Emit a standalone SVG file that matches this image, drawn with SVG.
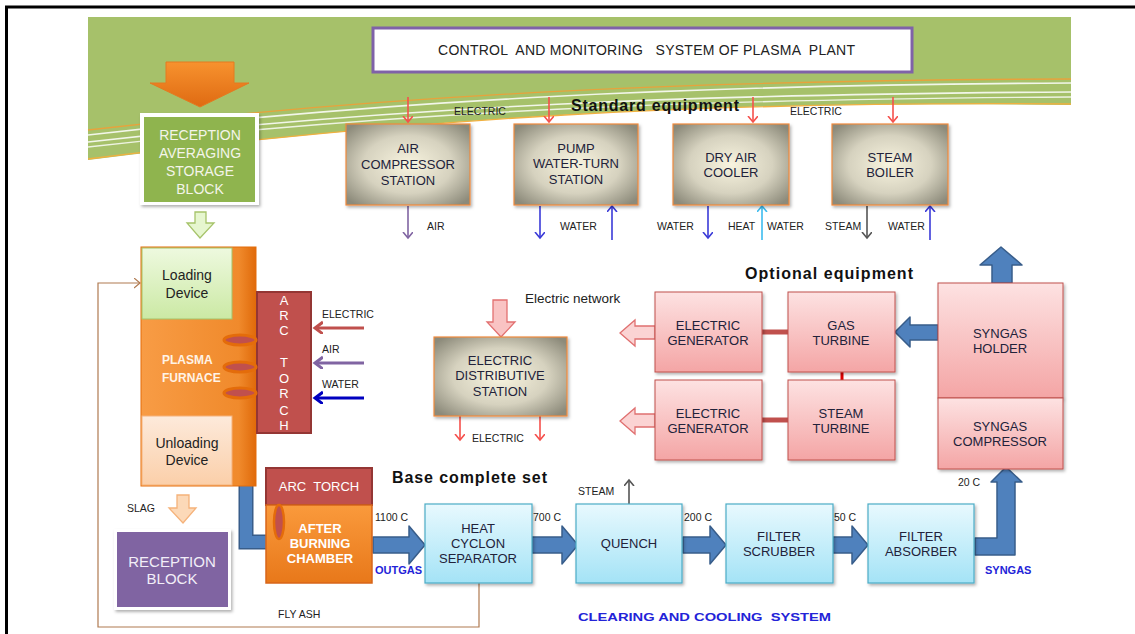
<svg xmlns="http://www.w3.org/2000/svg" width="1135" height="634" viewBox="0 0 1135 634">
  <defs>
    <style>
      .t { font-family: "Liberation Sans", Arial, sans-serif; }
      .box { font-size: 13px; fill: #22223a; text-anchor: middle; }
      .lbl { font-size: 10.5px; fill: #222; }
      .wb { font-size: 13px; fill: #ffffff; font-weight: bold; text-anchor: middle; }
      .ww { font-size: 14px; fill: #f4f4ea; text-anchor: middle; }
      .head { font-size: 16px; font-weight: bold; fill: #111; }
      .blue { font-size: 11px; font-weight: bold; fill: #2323d8; }
      .thin { fill: none; stroke-width: 1.6; }
      .blk { fill: #4f81bd; stroke: #385d8a; stroke-width: 1.5; stroke-linejoin: round; }
      .pinkbox { fill: url(#gPink); stroke: #c0504d; stroke-width: 1; filter: url(#sh); }
      .cyanbox { fill: url(#gCyan); stroke: #4bacc6; stroke-width: 1.2; filter: url(#sh); }
      .graybox { fill: url(#gGray); stroke: #f08a3c; stroke-width: 1.2; filter: url(#sh); }
    </style>
    <radialGradient id="gGray" cx="50%" cy="50%" r="65%">
      <stop offset="0" stop-color="#f8f4df"/>
      <stop offset="0.55" stop-color="#d6d2bf"/>
      <stop offset="1" stop-color="#8c8a7a"/>
    </radialGradient>
    <linearGradient id="gPink" x1="0" y1="0" x2="0" y2="1">
      <stop offset="0" stop-color="#fde2e2"/>
      <stop offset="1" stop-color="#f4a5a5"/>
    </linearGradient>
    <linearGradient id="gCyan" x1="0" y1="0" x2="0" y2="1">
      <stop offset="0" stop-color="#e8f9fe"/>
      <stop offset="1" stop-color="#a4e3f6"/>
    </linearGradient>
    <linearGradient id="gOrange" x1="0" y1="0" x2="1" y2="0">
      <stop offset="0" stop-color="#f89c45"/>
      <stop offset="0.85" stop-color="#f08a2c"/>
      <stop offset="1" stop-color="#e06a0a"/>
    </linearGradient>
    <linearGradient id="gOrangeV" x1="0" y1="0" x2="0" y2="1">
      <stop offset="0" stop-color="#fa9a3c"/>
      <stop offset="1" stop-color="#e8781a"/>
    </linearGradient>
    <linearGradient id="gArrowO" x1="0" y1="0" x2="0" y2="1">
      <stop offset="0" stop-color="#f7922e"/>
      <stop offset="1" stop-color="#df6a12"/>
    </linearGradient>
    <linearGradient id="gLoad" x1="0" y1="0" x2="0" y2="1">
      <stop offset="0" stop-color="#eef9df"/>
      <stop offset="1" stop-color="#cbe9a4"/>
    </linearGradient>
    <linearGradient id="gUnload" x1="0" y1="0" x2="0" y2="1">
      <stop offset="0" stop-color="#fdeadb"/>
      <stop offset="1" stop-color="#fbcfa9"/>
    </linearGradient>
    <filter id="sh" x="-10%" y="-10%" width="125%" height="125%">
      <feDropShadow dx="1.5" dy="2" stdDeviation="1.5" flood-color="#000" flood-opacity="0.3"/>
    </filter>
    <marker id="mRed" markerUnits="userSpaceOnUse" markerWidth="12" markerHeight="12" refX="6" refY="5" orient="auto">
      <path d="M0,0 L6,5 L0,10" fill="none" stroke="#f5504c" stroke-width="1.6"/>
    </marker>
    <marker id="mPur" markerUnits="userSpaceOnUse" markerWidth="12" markerHeight="12" refX="6" refY="5" orient="auto">
      <path d="M0,0 L6,5 L0,10" fill="none" stroke="#8064a2" stroke-width="1.6"/>
    </marker>
    <marker id="mBlu" markerUnits="userSpaceOnUse" markerWidth="12" markerHeight="12" refX="6" refY="5" orient="auto">
      <path d="M0,0 L6,5 L0,10" fill="none" stroke="#3a3ad8" stroke-width="1.6"/>
    </marker>
    <marker id="mCy" markerUnits="userSpaceOnUse" markerWidth="12" markerHeight="12" refX="6" refY="5" orient="auto">
      <path d="M0,0 L6,5 L0,10" fill="none" stroke="#3cbcef" stroke-width="1.6"/>
    </marker>
    <marker id="mGry" markerUnits="userSpaceOnUse" markerWidth="12" markerHeight="12" refX="6" refY="5" orient="auto">
      <path d="M0,0 L6,5 L0,10" fill="none" stroke="#555" stroke-width="1.6"/>
    </marker>
    <marker id="mBrn" markerUnits="userSpaceOnUse" markerWidth="12" markerHeight="12" refX="6" refY="5" orient="auto">
      <path d="M0,0 L6,5 L0,10" fill="none" stroke="#b07a50" stroke-width="1.2"/>
    </marker>
    <marker id="mTRed" markerUnits="userSpaceOnUse" markerWidth="14" markerHeight="14" refX="8" refY="6" orient="auto">
      <path d="M0,0 L8,6 L0,12" fill="none" stroke="#c0504d" stroke-width="3"/>
    </marker>
    <marker id="mTPur" markerUnits="userSpaceOnUse" markerWidth="14" markerHeight="14" refX="8" refY="6" orient="auto">
      <path d="M0,0 L8,6 L0,12" fill="none" stroke="#8064a2" stroke-width="3"/>
    </marker>
    <marker id="mTBlu" markerUnits="userSpaceOnUse" markerWidth="14" markerHeight="14" refX="8" refY="6" orient="auto">
      <path d="M0,0 L8,6 L0,12" fill="none" stroke="#0000c0" stroke-width="3"/>
    </marker>
  </defs>

  <rect width="1135" height="634" fill="#ffffff"/>
  <!-- page frame -->
  <rect x="6.5" y="7" width="1200" height="700" fill="none" stroke="#000" stroke-width="3"/>

  <!-- banner with sweeping stripes -->
  <g id="banner">
    <path d="M88,17 H1071 V105 C 700,100 420,118 88,160 Z" fill="#a6c16a"/>
    <path d="M88,130 C 400,94 700,80 1071,79" fill="none" stroke="#e8a23c" stroke-width="1.3"/>
    <path d="M88,135 C 400,99 700,85 1071,83" fill="none" stroke="#ffffff" stroke-width="1.6" opacity="0.85"/>
    <path d="M88,142 C 400,106 700,94 1071,92" fill="none" stroke="#ffffff" stroke-width="1.6" opacity="0.85"/>
    <path d="M88,147 C 400,111 700,99 1071,97" fill="none" stroke="#ffffff" stroke-width="1.4" opacity="0.8"/>
    <path d="M88,159 C 420,118 700,101 1071,104" fill="none" stroke="#f0b040" stroke-width="1.3"/>
  </g>

  <g id="control">
    <rect x="373" y="28" width="539" height="44" fill="#ffffff" stroke="#7f62a8" stroke-width="3"/>
    <text class="t" x="438" y="55" font-size="14" fill="#222" textLength="417" xml:space="preserve">CONTROL  AND MONITORING   SYSTEM OF PLASMA  PLANT</text>
  </g>

  <text class="t head" x="571" y="111" textLength="168">Standard equipment</text>
  <text class="t head" x="745" y="279" textLength="168">Optional equipment</text>
  <text class="t head" x="392" y="483" font-size="17" textLength="155">Base complete set</text>

  <!-- connectors -->
  <g id="connectors">
    <!-- electric supply into standard equipment -->
    <line x1="408" y1="97" x2="408" y2="122" class="thin" stroke="#f5504c" marker-end="url(#mRed)"/>
    <line x1="549" y1="97" x2="549" y2="122" class="thin" stroke="#f5504c" marker-end="url(#mRed)"/>
    <line x1="753" y1="97" x2="753" y2="122" class="thin" stroke="#f5504c" marker-end="url(#mRed)"/>
    <line x1="893" y1="97" x2="893" y2="122" class="thin" stroke="#f5504c" marker-end="url(#mRed)"/>

    <!-- outputs / inputs below standard equipment -->
    <line x1="408" y1="206" x2="408" y2="238" class="thin" stroke="#8064a2" marker-end="url(#mPur)"/>
    <line x1="540" y1="206" x2="540" y2="238" class="thin" stroke="#3a3ad8" marker-end="url(#mBlu)"/>
    <line x1="612" y1="240" x2="612" y2="206" class="thin" stroke="#3a3ad8" marker-end="url(#mBlu)"/>
    <line x1="708" y1="206" x2="708" y2="238" class="thin" stroke="#3a3ad8" marker-end="url(#mBlu)"/>
    <line x1="762" y1="240" x2="762" y2="206" class="thin" stroke="#3cbcef" marker-end="url(#mCy)"/>
    <line x1="867" y1="206" x2="867" y2="238" class="thin" stroke="#555" stroke-width="2" marker-end="url(#mGry)"/>
    <line x1="930" y1="240" x2="930" y2="206" class="thin" stroke="#3a3ad8" marker-end="url(#mBlu)"/>

    <!-- feed arrows into the arc torch -->
    <line x1="364" y1="328" x2="315" y2="328" stroke="#c0504d" stroke-width="3" marker-end="url(#mTRed)"/>
    <line x1="364" y1="363" x2="315" y2="363" stroke="#8064a2" stroke-width="3" marker-end="url(#mTPur)"/>
    <line x1="364" y1="398" x2="315" y2="398" stroke="#0000c0" stroke-width="3" marker-end="url(#mTBlu)"/>

    <!-- electric distributive station outputs -->
    <line x1="460" y1="416" x2="460" y2="440" class="thin" stroke="#f5504c" marker-end="url(#mRed)"/>
    <line x1="540" y1="416" x2="540" y2="440" class="thin" stroke="#f5504c" marker-end="url(#mRed)"/>

    <!-- fly ash return loop -->
    <polyline points="479,583 479,627 98,627 98,283 140,283" fill="none" stroke="#b07a50" stroke-width="1.2" marker-end="url(#mBrn)"/>

    <!-- steam off the quench -->
    <line x1="629" y1="504" x2="629" y2="480" class="thin" stroke="#555" marker-end="url(#mGry)"/>

    <!-- generator / turbine shafts -->
    <line x1="762" y1="332" x2="788" y2="332" stroke="#c0504d" stroke-width="5"/>
    <line x1="762" y1="420" x2="788" y2="420" stroke="#c0504d" stroke-width="5"/>
    <line x1="842" y1="372" x2="842" y2="380" stroke="#e00000" stroke-width="3"/>

    <!-- block arrows -->
    <path d="M166,62 H234 V83 H249 L200,107 L150,83 H166 Z" fill="url(#gArrowO)" stroke="#e47a20" stroke-width="1"/>
    <path d="M195,212 H206 V223 H214 L200,238 L187,223 H195 Z" fill="#e6f6cf" stroke="#a6c36a" stroke-width="1.3"/>
    <path d="M177,495 H189 V508 H196 L183,523 L169,508 H177 Z" fill="#fcd9b8" stroke="#f5b27a" stroke-width="1.3"/>
    <path d="M493,300 H507 V322 H515 L501,337 L487,322 H493 Z" fill="#f9c3c3" stroke="#e27070" stroke-width="1.3"/>
    <path d="M655,326 H635 V320 L620,333 L635,346 V339 H655 Z" fill="#fbd3d3" stroke="#e07070" stroke-width="1.3"/>
    <path d="M655,414 H635 V408 L620,421 L635,434 V427 H655 Z" fill="#fbd3d3" stroke="#e07070" stroke-width="1.3"/>
    <polyline points="246,485 246,542 268,542" fill="none" stroke="#385d8a" stroke-width="15"/>
    <polyline points="246,486 246,542 268,542" fill="none" stroke="#4f81bd" stroke-width="12"/>
    <path class="blk" d="M373,537 H409 V526 L425,545 L409,564 V553 H373 Z"/>
    <path class="blk" d="M532,537 H562 V526 L578,545 L562,564 V553 H532 Z"/>
    <path class="blk" d="M683,537 H710 V526 L726,545 L710,564 V553 H683 Z"/>
    <path class="blk" d="M833,537 H852 V526 L868,545 L852,564 V553 H833 Z"/>
    <path class="blk" d="M975,538 H997 V482 H991 L1006,467 L1022,482 H1015 V555 H975 Z"/>
    <path class="blk" d="M938,325 H910 V317 L895,332 L910,347 V340 H938 Z"/>
    <path class="blk" d="M992,283 V265 H980 L1001,247 L1022,265 H1012 V283 Z"/>
  </g>

  <!-- connector labels -->
  <g class="t lbl">
    <text x="454" y="115">ELECTRIC</text>
    <text x="790" y="115">ELECTRIC</text>
    <text x="427" y="230">AIR</text>
    <text x="560" y="230">WATER</text>
    <text x="657" y="230">WATER</text>
    <text x="728" y="230">HEAT</text>
    <text x="767" y="230">WATER</text>
    <text x="825" y="230">STEAM</text>
    <text x="888" y="230">WATER</text>
    <text x="322" y="318">ELECTRIC</text>
    <text x="322" y="353">AIR</text>
    <text x="322" y="388">WATER</text>
    <text x="472" y="442">ELECTRIC</text>
    <text x="127" y="512">SLAG</text>
    <text x="375" y="521">1100 C</text>
    <text x="533" y="521">700 C</text>
    <text x="684" y="521">200 C</text>
    <text x="834" y="521">50 C</text>
    <text x="958" y="486">20 C</text>
    <text x="578" y="495">STEAM</text>
    <text x="278" y="618">FLY ASH</text>
  </g>
  <text class="t" x="525" y="303" font-size="13.5" fill="#222">Electric network</text>
  <text class="t blue" x="375" y="574">OUTGAS</text>
  <text class="t blue" x="985" y="574">SYNGAS</text>
  <text class="t blue" x="578" y="621" font-size="15" textLength="253" lengthAdjust="spacingAndGlyphs" xml:space="preserve">CLEARING AND COOLING  SYSTEM</text>

  <!-- feed storage -->
  <g id="reception-averaging">
    <rect x="140" y="113" width="119" height="92" fill="#ffffff" filter="url(#sh)"/>
    <rect x="144" y="117" width="111" height="85" fill="#8fb44e"/>
    <text class="t ww" x="200" y="140">RECEPTION</text>
    <text class="t ww" x="200" y="158">AVERAGING</text>
    <text class="t ww" x="200" y="176">STORAGE</text>
    <text class="t ww" x="200" y="194">BLOCK</text>
  </g>

  <!-- standard equipment -->
  <g id="air-compressor">
    <rect class="graybox" x="346" y="124" width="124" height="81"/>
    <text class="t box" x="408" y="153">AIR</text>
    <text class="t box" x="408" y="169">COMPRESSOR</text>
    <text class="t box" x="408" y="185">STATION</text>
  </g>
  <g id="pump-station">
    <rect class="graybox" x="514" y="124" width="124" height="81"/>
    <text class="t box" x="576" y="153">PUMP</text>
    <text class="t box" x="576" y="168">WATER-TURN</text>
    <text class="t box" x="576" y="184">STATION</text>
  </g>
  <g id="dry-air-cooler">
    <rect class="graybox" x="673" y="124" width="116" height="81"/>
    <text class="t box" x="731" y="162">DRY AIR</text>
    <text class="t box" x="731" y="177">COOLER</text>
  </g>
  <g id="steam-boiler">
    <rect class="graybox" x="832" y="124" width="116" height="81"/>
    <text class="t box" x="890" y="162">STEAM</text>
    <text class="t box" x="890" y="177">BOILER</text>
  </g>

  <!-- plasma furnace -->
  <g id="plasma-furnace">
    <rect x="141" y="247" width="115" height="239" fill="url(#gOrange)" stroke="#e46c0a" stroke-width="1"/>
    <text class="t" x="162" y="364" font-size="12" font-weight="bold" fill="#fff3e6">PLASMA</text>
    <text class="t" x="162" y="382" font-size="12" font-weight="bold" fill="#fff3e6">FURNACE</text>
  </g>
  <g id="loading-device">
    <rect x="142" y="248" width="90" height="71" fill="url(#gLoad)" stroke="#a6c36a" stroke-width="1"/>
    <text class="t" x="187" y="280" font-size="14" fill="#222" text-anchor="middle">Loading</text>
    <text class="t" x="187" y="298" font-size="14" fill="#222" text-anchor="middle">Device</text>
  </g>
  <g id="unloading-device">
    <rect x="142" y="416" width="90" height="69" fill="url(#gUnload)" stroke="#f5b27a" stroke-width="1"/>
    <text class="t" x="187" y="448" font-size="14" fill="#222" text-anchor="middle">Unloading</text>
    <text class="t" x="187" y="465" font-size="14" fill="#222" text-anchor="middle">Device</text>
  </g>
  <g id="arc-torch">
    <rect x="257" y="292" width="54" height="141" fill="#c0504d" stroke="#943634" stroke-width="2"/>
    <g class="t" font-size="13" fill="#ffffff" text-anchor="middle">
      <text x="284" y="305">A</text>
      <text x="284" y="320">R</text>
      <text x="284" y="335">C</text>
      <text x="284" y="367">T</text>
      <text x="284" y="383">O</text>
      <text x="284" y="398">R</text>
      <text x="284" y="415">C</text>
      <text x="284" y="430">H</text>
    </g>
    <ellipse cx="240" cy="340" rx="16" ry="5" fill="#c0504d" stroke="#e46c0a" stroke-width="3"/>
    <ellipse cx="240" cy="367" rx="16" ry="5" fill="#c0504d" stroke="#e46c0a" stroke-width="3"/>
    <ellipse cx="240" cy="393" rx="16" ry="5" fill="#c0504d" stroke="#e46c0a" stroke-width="3"/>
  </g>

  <g id="reception-block">
    <rect x="114" y="529" width="117" height="81" fill="#ffffff" filter="url(#sh)"/>
    <rect x="117" y="532" width="111" height="75" fill="#8064a2"/>
    <text class="t" x="172" y="567" font-size="15" fill="#f2eef8" text-anchor="middle">RECEPTION</text>
    <text class="t" x="172" y="584" font-size="15" fill="#f2eef8" text-anchor="middle">BLOCK</text>
  </g>

  <!-- after burning -->
  <g id="after-burning">
    <rect x="266" y="468" width="106" height="37" fill="#c0504d" stroke="#943634" stroke-width="2"/>
    <text class="t" x="319" y="491" font-size="13" fill="#ffffff" text-anchor="middle" xml:space="preserve">ARC  TORCH</text>
    <rect x="266" y="505" width="106" height="78" fill="url(#gOrangeV)" stroke="#d8651a" stroke-width="1.5"/>
    <ellipse cx="279" cy="522" rx="5" ry="17" fill="#c0504d" stroke="#e46c0a" stroke-width="2.5"/>
    <text class="t wb" x="320" y="533" font-size="14">AFTER</text>
    <text class="t wb" x="320" y="548" font-size="14">BURNING</text>
    <text class="t wb" x="320" y="563" font-size="14">CHAMBER</text>
  </g>

  <!-- cleaning and cooling chain -->
  <g id="heat-cyclon">
    <rect class="cyanbox" x="425" y="504" width="107" height="79"/>
    <text class="t box" x="478" y="533">HEAT</text>
    <text class="t box" x="478" y="548">CYCLON</text>
    <text class="t box" x="478" y="563">SEPARATOR</text>
  </g>
  <g id="quench">
    <rect class="cyanbox" x="576" y="504" width="106" height="79"/>
    <text class="t box" x="629" y="548">QUENCH</text>
  </g>
  <g id="filter-scrubber">
    <rect class="cyanbox" x="726" y="504" width="107" height="79"/>
    <text class="t box" x="779" y="541">FILTER</text>
    <text class="t box" x="779" y="556">SCRUBBER</text>
  </g>
  <g id="filter-absorber">
    <rect class="cyanbox" x="868" y="504" width="106" height="79"/>
    <text class="t box" x="921" y="541">FILTER</text>
    <text class="t box" x="921" y="556">ABSORBER</text>
  </g>

  <!-- power section -->
  <g id="electric-distributive">
    <rect class="graybox" x="434" y="337" width="133" height="79"/>
    <text class="t box" x="500" y="365">ELECTRIC</text>
    <text class="t box" x="500" y="380">DISTRIBUTIVE</text>
    <text class="t box" x="500" y="396">STATION</text>
  </g>
  <g id="generator-1">
    <rect class="pinkbox" x="655" y="292" width="107" height="80"/>
    <text class="t box" x="708" y="330">ELECTRIC</text>
    <text class="t box" x="708" y="345">GENERATOR</text>
  </g>
  <g id="generator-2">
    <rect class="pinkbox" x="655" y="380" width="107" height="80"/>
    <text class="t box" x="708" y="418">ELECTRIC</text>
    <text class="t box" x="708" y="433">GENERATOR</text>
  </g>
  <g id="gas-turbine">
    <rect class="pinkbox" x="788" y="292" width="107" height="80"/>
    <text class="t box" x="841" y="330">GAS</text>
    <text class="t box" x="841" y="345">TURBINE</text>
  </g>
  <g id="steam-turbine">
    <rect class="pinkbox" x="788" y="380" width="107" height="80"/>
    <text class="t box" x="841" y="418">STEAM</text>
    <text class="t box" x="841" y="433">TURBINE</text>
  </g>
  <g id="syngas-holder">
    <rect class="pinkbox" x="938" y="283" width="125" height="115"/>
    <text class="t box" x="1000" y="338">SYNGAS</text>
    <text class="t box" x="1000" y="353">HOLDER</text>
  </g>
  <g id="syngas-compressor">
    <rect class="pinkbox" x="938" y="398" width="125" height="71"/>
    <text class="t box" x="1000" y="431">SYNGAS</text>
    <text class="t box" x="1000" y="446">COMPRESSOR</text>
  </g>
</svg>
